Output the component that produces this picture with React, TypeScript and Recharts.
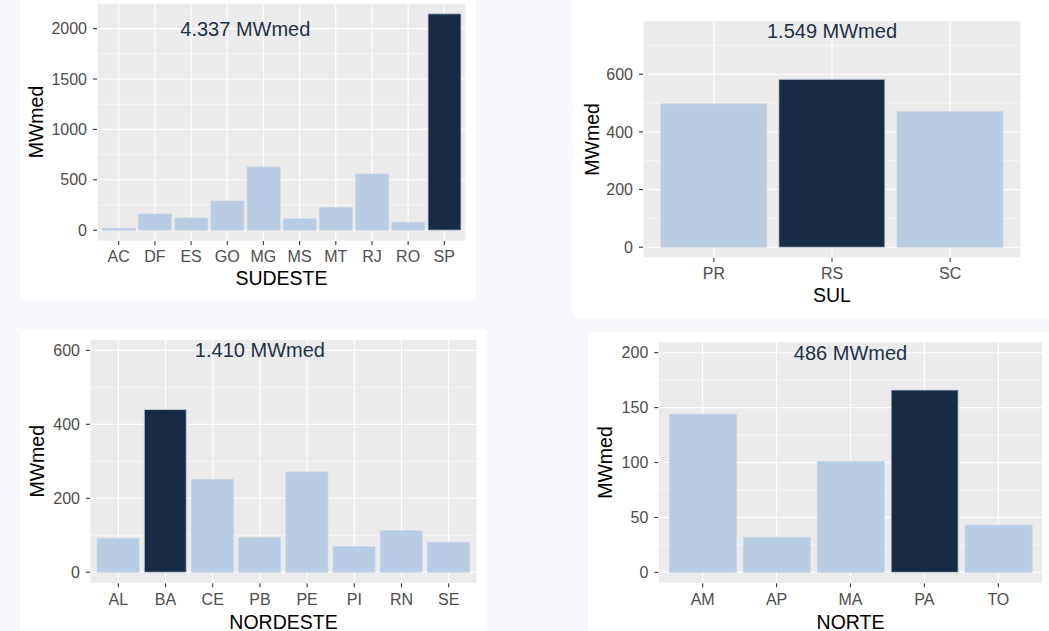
import React from 'react';
import { BarChart, Bar, XAxis, YAxis, CartesianGrid, Cell, ReferenceDot, Label } from 'recharts';

// ---- Data ----
const sudesteStates = ['AC', 'DF', 'ES', 'GO', 'MG', 'MS', 'MT', 'RJ', 'RO', 'SP'];
const sudesteValues = [18, 160, 122, 290, 627, 113, 225, 557, 78, 2147];
const sudesteTicks = [0, 500, 1000, 1500, 2000];
const sudesteMinor = [250, 750, 1250, 1750, 2250];

const sulStates = ['PR', 'RS', 'SC'];
const sulValues = [497, 582, 470];
const sulTicks = [0, 200, 400, 600];
const sulMinor = [100, 300, 500, 700];

const nordesteStates = ['AL', 'BA', 'CE', 'PB', 'PE', 'PI', 'RN', 'SE'];
const nordesteValues = [92, 440, 251, 94, 271, 69, 112, 81];
const nordesteTicks = [0, 200, 400, 600];
const nordesteMinor = [100, 300, 500];

const norteStates = ['AM', 'AP', 'MA', 'PA', 'TO'];
const norteValues = [144, 32, 101, 166, 43];
const norteTicks = [0, 50, 100, 150, 200];
const norteMinor = [25, 75, 125, 175];

const regionNames = ['SUDESTE', 'SUL', 'NORDESTE', 'NORTE'];
const totalLabels = ['4.337 MWmed', '1.549 MWmed', '1.410 MWmed', '486 MWmed'];
const annotationY = [2000, 748, 600, 200];
const annotationAnchor = ['GO', 'RS', 'PB', 'MA'];
const annotationShift = [0.5, 0, 0, 0];

// ---- Styles / layout ----
const LIGHT = '#B8CCE4';
const DARK = '#172B45';
const FONT = '"Liberation Sans", Arial, Helvetica, sans-serif';

type Box = { left: number; top: number; width: number; height: number };
type Plot = { left: number; right: number; top: number; bottom: number };

const layouts: { box: Box; plot: Plot; yTitleX: number; xTitleY: number }[] = [
  { box: { left: 20, top: 0, width: 456, height: 299 }, plot: { left: 97, right: 466, top: 3, bottom: 241 }, yTitleX: 36, xTitleY: 278 },
  { box: { left: 573, top: 0, width: 476, height: 317 }, plot: { left: 643, right: 1021, top: 20.7, bottom: 258 }, yTitleX: 591.7, xTitleY: 295 },
  { box: { left: 20, top: 330, width: 467, height: 301 }, plot: { left: 90, right: 477, top: 339.3, bottom: 583.3 }, yTitleX: 36.7, xTitleY: 621.7 },
  { box: { left: 588, top: 332, width: 461, height: 299 }, plot: { left: 658.3, right: 1042.7, top: 341.7, bottom: 583.3 }, yTitleX: 605, xTitleY: 621.7 },
];

type PanelProps = {
  idx: number;
  states: string[];
  values: number[];
  ticks: number[];
  minor: number[];
};

function Panel({ idx, states, values, ticks, minor }: PanelProps) {
  const { box, plot, yTitleX, xTitleY } = layouts[idx];
  const data = states.map((s, i) => ({ state: s, value: values[i] }));
  const maxV = Math.max(...values);
  const top = Math.max(maxV, annotationY[idx]);
  const domain = [-0.05 * top, 1.05 * top];
  const W = plot.right - plot.left;
  const unit = W / (states.length + 0.2);
  const pad = 0.1 * unit;
  const shiftPx = annotationShift[idx] * unit;

  const renderYTitle = (p: any) => {
    const vb = p.viewBox || {};
    const x = (vb.x ?? 0) + (yTitleX - box.left);
    const y = (vb.y ?? 0) + (vb.height ?? 0) / 2;
    return (
      <text x={x} y={y} transform={`rotate(-90, ${x}, ${y})`} textAnchor="middle" dominantBaseline="central" fontSize={19.5} fill="#000">
        MWmed
      </text>
    );
  };
  const renderXTitle = (p: any) => {
    const vb = p.viewBox || {};
    const x = (vb.x ?? 0) + (vb.width ?? 0) / 2;
    const y = (vb.y ?? 0) + (xTitleY - plot.bottom);
    return (
      <text x={x} y={y} textAnchor="middle" dominantBaseline="central" fontSize={19.5} fill="#000">
        {regionNames[idx]}
      </text>
    );
  };
  const renderAnnot = (p: any) => {
    const vb = p.viewBox || {};
    const x = (vb.x ?? 0) + (vb.width ?? 0) / 2 + shiftPx;
    const y = (vb.y ?? 0) + (vb.height ?? 0) / 2;
    return (
      <text x={x} y={y} textAnchor="middle" dominantBaseline="central" fontSize={20} fill="#1d3149">
        {totalLabels[idx]}
      </text>
    );
  };

  return (
    <div style={{ position: 'absolute', left: box.left, top: box.top, width: box.width, height: box.height, background: '#ffffff' }}>
      <BarChart
        width={box.width}
        height={box.height}
        data={data}
        margin={{ top: plot.top - box.top, right: box.left + box.width - plot.right, bottom: 0, left: 0 }}
        barCategoryGap="5%"
      >
        <CartesianGrid fill="#EBEBEB" stroke="#FFFFFF" strokeWidth={1.1} />
        <CartesianGrid vertical={false} horizontalValues={minor} stroke="#FFFFFF" strokeWidth={0.55} />
        <XAxis
          dataKey="state"
          type="category"
          height={box.top + box.height - plot.bottom}
          padding={{ left: pad, right: pad }}
          interval={0}
          tickSize={4}
          tickMargin={6}
          axisLine={false}
          tickLine={{ stroke: '#333333', strokeWidth: 1.1 }}
          tick={{ fill: '#4D4D4D', fontSize: 16 }}
        >
          <Label content={renderXTitle} />
        </XAxis>
        <YAxis
          type="number"
          width={plot.left - box.left}
          domain={domain as any}
          allowDataOverflow
          ticks={ticks}
          interval={0}
          tickSize={4}
          tickMargin={6}
          axisLine={false}
          tickLine={{ stroke: '#333333', strokeWidth: 1.1 }}
          tick={{ fill: '#4D4D4D', fontSize: 16 }}
        >
          <Label content={renderYTitle} />
        </YAxis>
        <Bar dataKey="value" isAnimationActive={false} stroke="#c9d4e2" strokeWidth={0.8}>
          {data.map((d) => (
            <Cell key={d.state} fill={d.value === maxV ? DARK : LIGHT} />
          ))}
        </Bar>
        <ReferenceDot x={annotationAnchor[idx]} y={annotationY[idx]} r={0} fill="none" stroke="none" ifOverflow="visible">
          <Label content={renderAnnot} />
        </ReferenceDot>
      </BarChart>
    </div>
  );
}

export default function App() {
  return (
    <div
      style={{
        position: 'absolute',
        left: 0,
        top: 0,
        width: 1049,
        height: 631,
        overflow: 'hidden',
        background: '#f6f8fb',
        fontFamily: FONT,
      }}
    >
      <Panel idx={0} states={sudesteStates} values={sudesteValues} ticks={sudesteTicks} minor={sudesteMinor} />
      <Panel idx={1} states={sulStates} values={sulValues} ticks={sulTicks} minor={sulMinor} />
      <Panel idx={2} states={nordesteStates} values={nordesteValues} ticks={nordesteTicks} minor={nordesteMinor} />
      <Panel idx={3} states={norteStates} values={norteValues} ticks={norteTicks} minor={norteMinor} />
    </div>
  );
}
